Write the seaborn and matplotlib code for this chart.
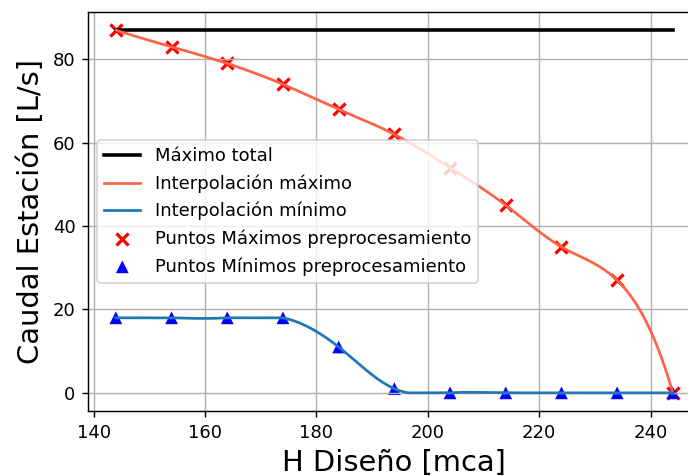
import numpy as np
import pandas as pd
import matplotlib
matplotlib.use("Agg")
import matplotlib.pyplot as plt
import seaborn as sns

# Data
h_points = [144, 154, 164, 174, 184, 194, 204, 214, 224, 234, 244]
q_max = [87, 83, 79, 74, 68, 62, 54, 45, 35, 27, 0]
q_min = [18, 18, 18, 18, 11, 1, 0, 0, 0, 0, 0]
q_max_total = 87

x_label = "H Diseño [mca]"
y_label = "Caudal Estación [L/s]"


def not_a_knot_spline(x, y, xs):
    x = np.asarray(x, float)
    y = np.asarray(y, float)
    n = len(x)
    h = np.diff(x)
    A = np.zeros((n, n))
    b = np.zeros(n)
    A[0, 0], A[0, 1], A[0, 2] = h[1], -(h[0] + h[1]), h[0]
    A[-1, -3], A[-1, -2], A[-1, -1] = h[-1], -(h[-2] + h[-1]), h[-2]
    for i in range(1, n - 1):
        A[i, i - 1] = h[i - 1]
        A[i, i] = 2 * (h[i - 1] + h[i])
        A[i, i + 1] = h[i]
        b[i] = 6 * ((y[i + 1] - y[i]) / h[i] - (y[i] - y[i - 1]) / h[i - 1])
    M = np.linalg.solve(A, b)
    idx = np.clip(np.searchsorted(x, xs) - 1, 0, n - 2)
    x0, x1 = x[idx], x[idx + 1]
    hh = x1 - x0
    s = (M[idx] * (x1 - xs) ** 3 / (6 * hh) + M[idx + 1] * (xs - x0) ** 3 / (6 * hh)
         + (y[idx] / hh - M[idx] * hh / 6) * (x1 - xs)
         + (y[idx + 1] / hh - M[idx + 1] * hh / 6) * (xs - x0))
    return np.clip(s, y.min(), y.max())


xs = np.linspace(min(h_points), max(h_points), 800)
curve_max = not_a_knot_spline(h_points, q_max, xs)
curve_min = not_a_knot_spline(h_points, q_min, xs)

plt.rcParams["font.family"] = ["DejaVu Sans"]

fig = plt.figure(figsize=(688 / 130, 476 / 130), dpi=130)
ax = fig.add_axes([0.1279, 0.1366, 1.0185 - 0.1279, 0.9748 - 0.1366])

sns.lineplot(x=[min(h_points), max(h_points)], y=[q_max_total, q_max_total],
             color="black", linewidth=2, label="Máximo total", ax=ax)
sns.lineplot(x=xs, y=curve_max, color="tomato", linewidth=1.5,
             label="Interpolación máximo", ax=ax, sort=False)
sns.lineplot(x=xs, y=curve_min, color="#1f77b4", linewidth=1.5,
             label="Interpolación mínimo", ax=ax, sort=False)
sns.scatterplot(x=h_points, y=q_max, color="red", marker="x", s=45,
                linewidth=1.8, label="Puntos Máximos preprocesamiento", ax=ax, zorder=1)
sns.scatterplot(x=h_points, y=q_min, color="blue", marker="^", s=50,
                edgecolor="none", label="Puntos Mínimos preprocesamiento", ax=ax, zorder=1)

ax.set_xlim(139, 249)
ax.set_ylim(-4.35, 91.35)
ax.set_xticks([140, 160, 180, 200, 220, 240])
ax.set_yticks([0, 20, 40, 60, 80])
ax.grid(True, color="#b0b0b0", linewidth=0.8)
ax.tick_params(labelsize=10, length=3.5, width=0.8, color="black", labelcolor="black")
for sp in ax.spines.values():
    sp.set_visible(True)
    sp.set_color("black")
    sp.set_linewidth(0.8)
ax.set_xlabel(x_label, fontsize=16, color="black")
ax.set_ylabel(y_label, fontsize=16, color="black")
ax.legend(loc="center left", fontsize=10, framealpha=0.8)

fig.savefig("out.png", dpi=130)
